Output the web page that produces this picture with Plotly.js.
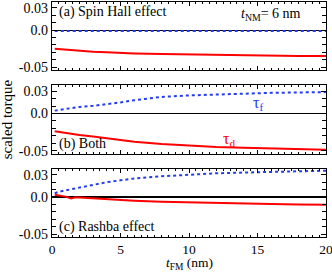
<!DOCTYPE html>
<html>
<head>
<meta charset="utf-8">
<script src="https://cdn.plot.ly/plotly-3.0.1.min.js"></script>
<style>html,body{margin:0;padding:0;background:#fff;}#chart{width:332px;height:275px;}</style>
</head>
<body>
<div id="chart"></div>
<script>
// thickness of FM layer (nm)
var tFM = [0.2, 0.5, 1, 1.5, 2, 3, 4, 5, 6, 8, 10, 12, 14, 16, 18, 20];
// (a) Spin Hall effect
var tauF_a = [-0.0012, -0.0012, -0.0012, -0.0012, -0.0012, -0.0012, -0.0012, -0.0012, -0.0012, -0.0012, -0.0012, -0.0013, -0.0013, -0.0013, -0.0013, -0.0013];
var tauD_a = [-0.025, -0.0255, -0.026, -0.027, -0.0275, -0.029, -0.030, -0.031, -0.0315, -0.0323, -0.033, -0.0337, -0.0342, -0.0345, -0.0348, -0.035];
// (b) Both
var tauF_b = [0.004, 0.005, 0.0065, 0.008, 0.009, 0.0105, 0.0125, 0.015, 0.018, 0.0225, 0.0245, 0.026, 0.027, 0.028, 0.0285, 0.029];
var tauD_b = [-0.024, -0.025, -0.0265, -0.028, -0.029, -0.031, -0.0335, -0.036, -0.038, -0.041, -0.0435, -0.045, -0.046, -0.047, -0.048, -0.0487];
// (c) Rashba effect
var tFM_c = [0.2, 0.5, 1, 1.4, 1.7, 2, 3, 4, 5, 6, 8, 10, 12, 14, 16, 18, 20];
var tauF_c = [0.005, 0.007, 0.009, 0.0105, 0.012, 0.013, 0.017, 0.020, 0.0225, 0.025, 0.028, 0.0305, 0.032, 0.033, 0.034, 0.035, 0.0355];
var tauD_c = [0.003, 0.002, 0.0005, -0.002, -0.0005, -0.0008, -0.002, -0.003, -0.004, -0.005, -0.0065, -0.0075, -0.0085, -0.009, -0.0095, -0.010, -0.0105];

var yTickVals = [-0.05, 0, 0.03];
var yTickText = ['-0.05', '0.0', '0.03'];
var xTickVals = [0, 5, 10, 15, 20];

var serif = 'Liberation Serif, Times New Roman, serif';
var blue = 'rgb(35,60,240)';
var red = 'rgb(255,0,0)';

function dotted(x, y, xa, ya) {
  return {x: x, y: y, xaxis: xa, yaxis: ya, mode: 'lines', line: {color: blue, width: 2, dash: 'dot'}, hoverinfo: 'skip'};
}
function solid(x, y, xa, ya) {
  return {x: x, y: y, xaxis: xa, yaxis: ya, mode: 'lines', line: {color: red, width: 2}, hoverinfo: 'skip'};
}

var data = [
  solid(tFM, tauD_a, 'x', 'y'), dotted(tFM, tauF_a, 'x', 'y'),
  solid(tFM, tauD_b, 'x2', 'y2'), dotted(tFM, tauF_b, 'x2', 'y2'),
  solid(tFM_c, tauD_c, 'x3', 'y3'), dotted(tFM_c, tauF_c, 'x3', 'y3')
];

function xAxis(anchor, showLabels) {
  return {
    anchor: anchor, domain: [0, 1], range: [0, 20],
    tickmode: 'array', tickvals: xTickVals, showticklabels: showLabels,
    ticklabeloverflow: 'allow',
    ticks: 'inside', ticklen: 4, tickwidth: 1, tickcolor: '#000',
    minor: {tickmode: 'linear', tick0: 0, dtick: 0.5, ticklen: 2, tickcolor: '#000', ticks: 'inside'},
    showline: true, linecolor: '#000', linewidth: 1.2, mirror: 'ticks',
    showgrid: false, zeroline: false,
    tickfont: {family: serif, size: 13.5, color: '#000'}
  };
}
function yAxis(anchor, domain) {
  return {
    anchor: anchor, domain: domain, range: [-0.054, 0.038],
    tickmode: 'array', tickvals: yTickVals, ticktext: yTickText,
    ticks: 'inside', ticklen: 5, tickwidth: 1, tickcolor: '#000',
    minor: {tickmode: 'linear', tick0: 0, dtick: 0.01, ticklen: 4, tickcolor: '#000', ticks: 'inside'},
    showline: true, linecolor: '#000', linewidth: 1.2, mirror: 'ticks',
    showgrid: false, zeroline: true, zerolinecolor: '#000', zerolinewidth: 1.3,
    tickfont: {family: serif, size: 14, color: '#000'}
  };
}

var layout = {
  width: 332, height: 275,
  margin: {l: 52, r: 6, t: 2, b: 38},
  paper_bgcolor: '#fff', plot_bgcolor: '#fff',
  showlegend: false,
  font: {family: serif, color: '#000'},
  xaxis: xAxis('y', false),
  yaxis: yAxis('x', [0.71, 1]),
  xaxis2: xAxis('y2', false),
  yaxis2: yAxis('x2', [0.355, 0.645]),
  xaxis3: xAxis('y3', true),
  yaxis3: yAxis('x3', [0, 0.29]),
  annotations: [
    {text: '(a) Spin Hall effect', xref: 'x domain', yref: 'y domain', x: 0.02, y: 1.0, xanchor: 'left', yanchor: 'top', showarrow: false, font: {family: serif, size: 14, color: '#000'}},
    {text: '<i>t</i><sub>NM</sub>= 6 nm', xref: 'x domain', yref: 'y domain', x: 0.8, y: 0.97, xanchor: 'center', yanchor: 'top', showarrow: false, font: {family: serif, size: 14, color: '#000'}},
    {text: '(b) Both', xref: 'x2 domain', yref: 'y2 domain', x: 0.02, y: 0.0, xanchor: 'left', yanchor: 'bottom', showarrow: false, font: {family: serif, size: 14, color: '#000'}},
    {text: '(c) Rashba effect', xref: 'x3 domain', yref: 'y3 domain', x: 0.02, y: 0.0, xanchor: 'left', yanchor: 'bottom', showarrow: false, font: {family: serif, size: 14, color: '#000'}},
    {text: 'τ<sub>f</sub>', xref: 'x2', yref: 'y2', x: 15.0, y: 0.014, showarrow: false, font: {family: serif, size: 16, color: blue}},
    {text: 'τ<sub>d</sub>', xref: 'x2', yref: 'y2', x: 12.9, y: -0.035, showarrow: false, font: {family: serif, size: 16, color: red}},
    {text: 'scaled torque', xref: 'paper', yref: 'paper', x: -0.165, y: 0.5, textangle: -90, xanchor: 'center', yanchor: 'middle', showarrow: false, font: {family: serif, size: 15, color: '#000'}},
    {text: '<i>t</i><sub>FM</sub> (nm)', xref: 'paper', yref: 'paper', x: 0.5, y: 0, yshift: -37, xanchor: 'center', yanchor: 'bottom', showarrow: false, font: {family: serif, size: 13.5, color: '#000'}}
  ]
};

Plotly.newPlot('chart', data, layout, {staticPlot: true, displayModeBar: false});
</script>
</body>
</html>
